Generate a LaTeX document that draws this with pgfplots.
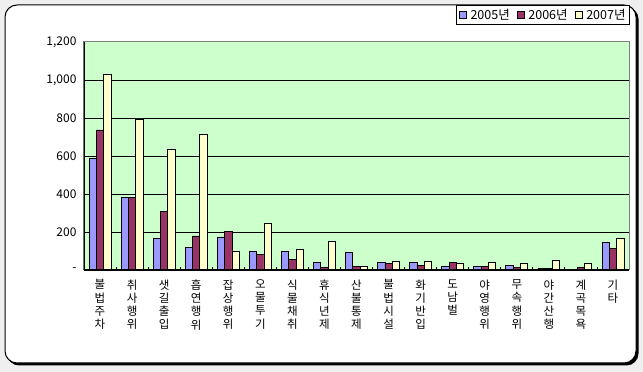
\documentclass[border=0pt]{standalone}
\usepackage{pgfplots}
\pgfplotsset{compat=1.18}
\usepackage{pgfplotstable}
\usepackage{fontspec}
\setmainfont{Noto Sans CJK KR}
\definecolor{c05}{HTML}{9999FF}
\definecolor{c06}{HTML}{993366}
\definecolor{c07}{HTML}{FFFFCC}
\definecolor{plotbg}{HTML}{CCFFCC}
\definecolor{outerbg}{HTML}{EFEFEF}

\pgfplotstableread{
x a b c
0 589 737 1032
1 384 384 795
2 168 310 637
3 121 179 716
4 174 205 100
5 100 84 247
6 100 56 109
7 40 14 151
8 93 19 19
9 40 35 47
10 40 25 47
11 19 40 35
12 19 19 40
13 25 14 35
14 9 9 51
15 4 14 35
16 146 114 167
}\data

\begin{document}
\begin{tikzpicture}
\fill[outerbg] (0pt,0pt) rectangle (643pt,372pt);
\useasboundingbox (0pt,0pt) rectangle (643pt,372pt);
\fill[black, rounded corners=12pt] (7pt,6.5pt) rectangle (638.5pt,365pt);
\draw[fill=white, line width=1pt, rounded corners=12pt] (5pt,9pt) rectangle (636pt,367pt);
\begin{axis}[
  at={(84pt,102pt)}, anchor=south west,
  scale only axis, width=545pt, height=228pt,
  xmin=-0.5, xmax=16.5, ymin=0, ymax=1200,
  ybar=0pt, bar width=7.3pt,
  axis background/.style={fill=plotbg},
  axis line style={draw=gray, line width=1pt},
  xtick={0,...,16},
  xticklabels={{불\\법\\주\\차},{취\\사\\행\\위},{샛\\길\\출\\입},{흡\\연\\행\\위},{잡\\상\\행\\위},{오\\물\\투\\기},{식\\물\\채\\취},{휴\\식\\년\\제},{산\\불\\통\\제},{불\\법\\시\\설},{화\\기\\반\\입},{도\\남\\벌},{야\\영\\행\\위},{무\\속\\행\\위},{야\\간\\산\\행},{계\\곡\\목\\욕},{기\\타}},
  xticklabel style={align=center, anchor=north, yshift=-6pt, font=\fontsize{11.5}{13.3}\selectfont},
  major x tick style={draw=none},
  minor xtick={0.5,1.5,...,15.5},
  minor x tick style={black, line width=0.8pt},
  minor tick length=3pt,
  tick align=inside,
  xtick pos=bottom,
  ytick={0,200,400,600,800,1000},
  yticklabels={-,200,400,600,800,{1{,}000}},
  extra y ticks={1200},
  extra y tick labels={1{,}200},
  extra y tick style={grid=none},
  yticklabel style={font=\fontsize{12}{13}\selectfont, xshift=-4pt},
  major y tick style={draw=none},
  ymajorgrids=true,
  major grid style={black, line width=0.9pt},
  legend style={at={(1,1)}, anchor=south east, yshift=16.5pt, xshift=1pt,
    draw=black, line width=1pt, fill=white, inner sep=2pt,
    font=\fontsize{12.5}{13}\selectfont},
  legend columns=3,
  legend cell align=left,
  /tikz/every odd column/.append style={column sep=2pt},
  /tikz/every even column/.append style={column sep=5pt},
  legend image code/.code={\draw[#1, draw=black, line width=0.6pt] (0pt,-3.5pt) rectangle (7pt,3.5pt);},
]
\addplot[fill=c05, draw=black, line width=0.8pt] table[x=x, y=a] {\data};
\addplot[fill=c06, draw=black, line width=0.8pt] table[x=x, y=b] {\data};
\addplot[fill=c07, draw=black, line width=0.8pt] table[x=x, y=c] {\data};
\legend{2005년,2006년,2007년}
\draw[black, line width=1.2pt] (rel axis cs:0,1) -- (rel axis cs:0,0) -- (rel axis cs:1,0);
\end{axis}
\end{tikzpicture}
\end{document}
